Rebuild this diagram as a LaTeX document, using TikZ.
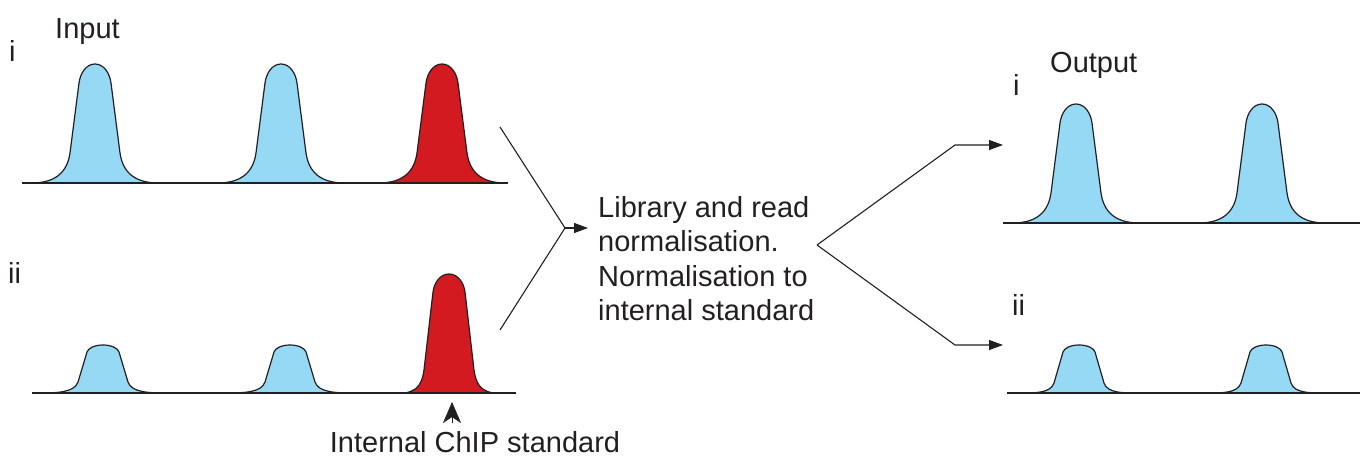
\documentclass[tikz,border=0pt]{standalone}
\usepackage{fontspec}
\setmainfont{Liberation Sans}
\usetikzlibrary{arrows.meta}
\definecolor{ink}{HTML}{231F20}
\definecolor{peakblue}{HTML}{96D9F5}
\definecolor{peakred}{HTML}{D31A21}

% One ChIP read-count peak: #1 fill, #2 centre x, #3 baseline y,
% #4 height, #5 depth of the rounded cap, #6 height of the flared foot
\newcommand\chippeak[6]{%
  \begin{scope}[shift={(#2,#3)}]
    \pgfmathsetmacro\dd{#4-#5-#6}
    \filldraw[fill=#1, draw=ink, line width=1.2pt, line join=round]
      (-64,0) .. controls (-46,0) and (-28.5,{-#6+0.35*\dd}) .. (-25,-#6)
      -- (-16,{-(#4-#5)})
      .. controls ({-16+4.5*#5/\dd},{-(#4-#5)-0.5*#5}) and (-9,-#4) .. (0,-#4)
      .. controls (9,-#4) and ({16-4.5*#5/\dd},{-(#4-#5)-0.5*#5}) .. (16,{-(#4-#5)})
      -- (25,-#6)
      .. controls (28.5,{-#6+0.35*\dd}) and (46,0) .. (64,0);
  \end{scope}}

\begin{document}
\begin{tikzpicture}[x=1pt, y=-1pt,
    lbl/.style={inner sep=0pt, anchor=base west, text=ink,
                font=\fontsize{29}{34.5}\selectfont},
    axis/.style={draw=ink, line width=1.3pt},
    link/.style={draw=ink, line width=1.1pt},
    tip/.style={-{Triangle[length=14pt, width=10pt]}}]
  \useasboundingbox (0,0) rectangle (1360,457);

  % ---- input profiles ----
  \chippeak{peakblue}{95}{183}{119}{19}{30}
  \chippeak{peakblue}{281}{183}{119}{19}{30}
  \chippeak{peakred}{442}{183}{119}{19}{30}
  \draw[axis] (22,183) -- (508,183);

  \chippeak{peakblue}{103}{393}{48}{7}{11}
  \chippeak{peakblue}{290}{393}{48}{7}{11}
  \chippeak{peakred}{449}{393}{119}{18}{23}
  \draw[axis] (32,393) -- (516,393);

  % ---- output profiles ----
  \chippeak{peakblue}{1076}{223}{119}{19}{30}
  \chippeak{peakblue}{1262}{223}{119}{19}{30}
  \draw[axis] (1003,223) -- (1360,223);

  \chippeak{peakblue}{1079}{393}{48}{7}{10}
  \chippeak{peakblue}{1266}{393}{48}{7}{10}
  \draw[axis] (1007,393) -- (1360,393);

  % ---- labels ----
  \node[lbl] (input)  at (55,39)   {Input};
  \node[lbl] (ini)    at (9,62)    {i};
  \node[lbl] (inii)   at (8,283)   {ii};
  \node[lbl] (output) at (1050,73) {Output};
  \node[lbl] (outi)   at (1013,96) {i};
  \node[lbl] (outii)  at (1012,315) {ii};
  \node[lbl, anchor=north west, align=left] (norm) at (598,196)
    {Library and read\\normalisation.\\Normalisation to\\internal standard};
  \node[lbl, anchor=base] (std) at (475,452) {Internal ChIP standard};

  % ---- connectors ----
  \coordinate (inA)   at (500,127);
  \coordinate (inB)   at (500,330);
  \coordinate (jin)   at (565,228);
  \coordinate (jinT)  at (588,228);
  \draw[link] (inA) -- (jin) -- (inB);
  \draw[link, tip] (jin) -- (jinT);

  \coordinate (jout)  at (817,245);
  \coordinate (upK)   at (955,145);
  \coordinate (upT)   at (1003,145);
  \coordinate (dnK)   at (955,345);
  \coordinate (dnT)   at (1003,345);
  \draw[link, tip] (jout) -- (upK) -- (upT);
  \draw[link, tip] (jout) -- (dnK) -- (dnT);

  % pointer to the spike-in peak
  \coordinate (stdT) at (452,402);
  \draw[draw=ink, fill=ink, -{Stealth[length=21pt, width=18pt, inset=6pt]}]
    (452,423) -- (stdT);
\end{tikzpicture}
\end{document}
